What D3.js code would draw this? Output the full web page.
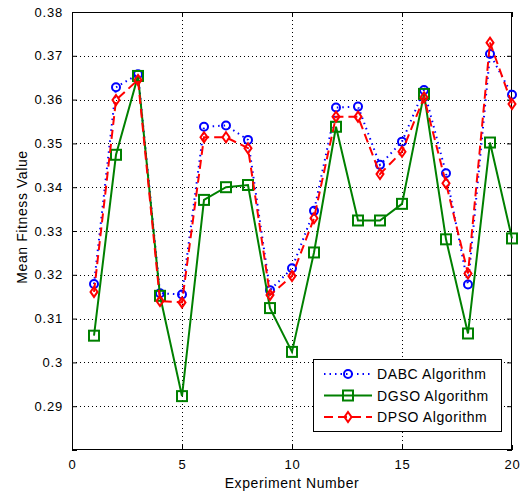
<!DOCTYPE html>
<html>
<head>
<meta charset="utf-8">
<script src="https://cdn.jsdelivr.net/npm/d3@7"></script>
<style>
  html, body { margin: 0; padding: 0; background: #fff; }
  svg { display: block; }
  text { font-family: "Liberation Sans", Arial, sans-serif; fill: #000; }
</style>
</head>
<body>
<svg id="chart" width="522" height="494"></svg>
<script>
// Experiment numbers 1..20
const experiments = [1,2,3,4,5,6,7,8,9,10,11,12,13,14,15,16,17,18,19,20];

// Mean fitness per experiment for each algorithm
const dabc = [0.3179,0.3628,0.3658,0.3158,0.3155,0.3538,0.3541,0.3508,0.3165,0.3215,
              0.3346,0.3582,0.3584,0.3451,0.3504,0.3622,0.3432,0.3178,0.3704,0.3611];
const dgso = [0.3061,0.3474,0.3654,0.3152,0.2923,0.3371,0.3400,0.3405,0.3124,0.3024,
              0.3251,0.3538,0.3324,0.3324,0.3362,0.3613,0.3281,0.3066,0.3502,0.3283];
const dpso = [0.3161,0.3599,0.3645,0.3140,0.3137,0.3514,0.3514,0.3489,0.3154,0.3197,
              0.3329,0.3561,0.3561,0.3430,0.3481,0.3605,0.3409,0.3203,0.3730,0.3590];

const xTicks = [0,5,10,15,20];
const yTicks = [0.28,0.29,0.30,0.31,0.32,0.33,0.34,0.35,0.36,0.37,0.38];
const yTickLabels = ["","0.29","0.3","0.31","0.32","0.33","0.34","0.35","0.36","0.37","0.38"];

const seriesNames = ["DABC Algorithm", "DGSO Algorithm", "DPSO Algorithm"];

const svg = d3.select("#chart");
const m = { left: 72, right: 10, top: 12, bottom: 44 };
const W = 522, H = 494;
const pw = W - m.left - m.right, ph = H - m.top - m.bottom;

const x = d3.scaleLinear().domain([0, 20]).range([m.left, m.left + pw]);
const y = d3.scaleLinear().domain([0.28, 0.38]).range([m.top + ph, m.top]);

// dotted grid
const grid = svg.append("g").attr("stroke", "#000").attr("stroke-width", 1)
  .attr("stroke-dasharray", "1,3");
grid.selectAll(".gx").data(xTicks.slice(1, -1)).join("line")
  .attr("x1", d => Math.round(x(d)) + 0.5).attr("x2", d => Math.round(x(d)) + 0.5)
  .attr("y1", m.top).attr("y2", m.top + ph);
grid.selectAll(".gy").data(yTicks.slice(1, -1)).join("line")
  .attr("y1", d => Math.round(y(d)) + 0.5).attr("y2", d => Math.round(y(d)) + 0.5)
  .attr("x1", m.left).attr("x2", m.left + pw);

// axes with inward ticks on all four sides
const fmtYLabel = (d, i) => yTickLabels[i];
function styleAxis(g) {
  g.select(".domain").remove();
  g.selectAll(".tick line").attr("stroke", "#000");
  g.selectAll(".tick text").style("font-size", "13px").style("letter-spacing", "0.8px");
}
svg.append("g").attr("transform", `translate(0,${m.top + ph})`)
  .call(d3.axisBottom(x).tickValues(xTicks).tickSizeInner(-5).tickSizeOuter(0).tickPadding(10)
    .tickFormat(d3.format("d")))
  .call(styleAxis);
svg.append("g").attr("transform", `translate(0,${m.top})`)
  .call(d3.axisTop(x).tickValues(xTicks).tickSizeInner(-5).tickSizeOuter(0).tickFormat(""))
  .call(styleAxis);
svg.append("g").attr("transform", `translate(${m.left},0)`)
  .call(d3.axisLeft(y).tickValues(yTicks).tickSizeInner(-5).tickSizeOuter(0).tickPadding(9)
    .tickFormat(fmtYLabel))
  .call(styleAxis);
svg.append("g").attr("transform", `translate(${m.left + pw},0)`)
  .call(d3.axisRight(y).tickValues(yTicks).tickSizeInner(-5).tickSizeOuter(0).tickFormat(""))
  .call(styleAxis);

// plot box
svg.append("rect").attr("x", m.left + 0.5).attr("y", m.top + 0.5)
  .attr("width", pw - 1).attr("height", ph - 1)
  .attr("fill", "none").attr("stroke", "#000").attr("stroke-width", 1);

// axis titles
svg.append("text").attr("x", x(10)).attr("y", 488).attr("text-anchor", "middle")
  .style("font-size", "14px").style("letter-spacing", "0.6px").text("Experiment Number");
svg.append("text").attr("transform", "translate(27,217) rotate(-90)").attr("text-anchor", "middle")
  .style("font-size", "14px").style("letter-spacing", "0.6px").text("Mean Fitness Value");

// series
const series = [
  { name: seriesNames[0], vals: dabc, color: "#0000ff", dash: "1.5,4", marker: "circle" },
  { name: seriesNames[1], vals: dgso, color: "#008000", dash: null, marker: "square" },
  { name: seriesNames[2], vals: dpso, color: "#ff0000", dash: "9,5", marker: "diamond" }
];

const line = d3.line().x(d => x(d[0])).y(d => y(d[1]));

function drawMarker(g, type, cx, cy, color) {
  if (type === "circle") {
    g.append("circle").attr("cx", cx).attr("cy", cy).attr("r", 4)
      .attr("fill", "none").attr("stroke", color).attr("stroke-width", 2);
  } else if (type === "square") {
    g.append("rect").attr("x", cx - 5).attr("y", cy - 5).attr("width", 10).attr("height", 10)
      .attr("fill", "none").attr("stroke", color).attr("stroke-width", 2);
  } else {
    g.append("path").attr("d", `M${cx},${cy - 5}L${cx + 3.5},${cy}L${cx},${cy + 5}L${cx - 3.5},${cy}Z`)
      .attr("fill", "none").attr("stroke", color).attr("stroke-width", 2);
  }
}

series.forEach(s => {
  const pts = experiments.map((e, i) => [e, s.vals[i]]);
  const g = svg.append("g");
  g.append("path").datum(pts).attr("d", line)
    .attr("fill", "none").attr("stroke", s.color).attr("stroke-width", 2)
    .attr("stroke-dasharray", s.dash);
  pts.forEach(p => drawMarker(g, s.marker, x(p[0]), y(p[1]), s.color));
});

// legend
const lg = svg.append("g");
lg.append("rect").attr("x", 313.5).attr("y", 359.5).attr("width", 188).attr("height", 72)
  .attr("fill", "#fff").attr("stroke", "#000").attr("stroke-width", 1);
series.forEach((s, i) => {
  const ly = 374 + i * 21.5;
  lg.append("line").attr("x1", 324).attr("x2", 372).attr("y1", ly).attr("y2", ly)
    .attr("stroke", s.color).attr("stroke-width", 2).attr("stroke-dasharray", s.dash);
  drawMarker(lg, s.marker, 348, ly, s.color);
  lg.append("text").attr("x", 377).attr("y", ly + 5).style("font-size", "14px")
    .style("letter-spacing", "0.6px").text(s.name);
});
</script>
</body>
</html>
